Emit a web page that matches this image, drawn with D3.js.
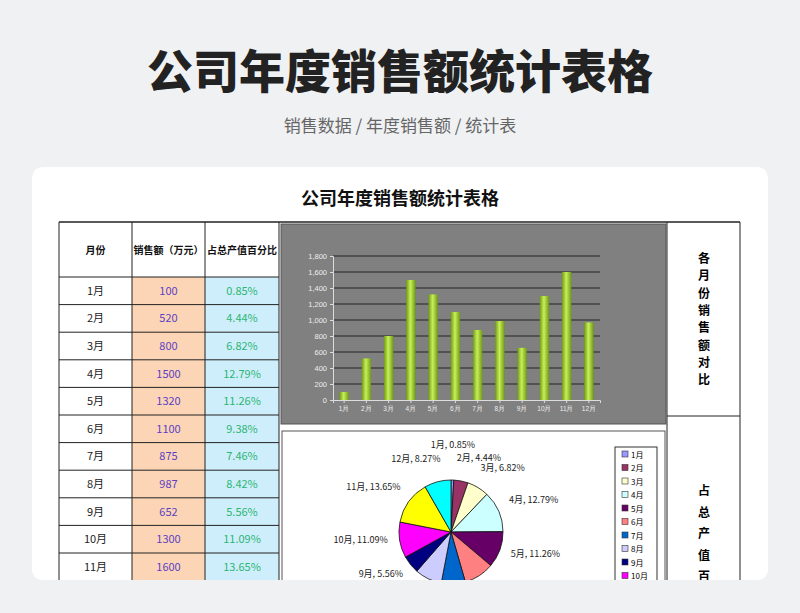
<!DOCTYPE html><html><head><meta charset="utf-8"><script src="https://cdn.jsdelivr.net/npm/d3@7"></script>
<style>body{margin:0;background:#f0f1f3;font-family:"Noto Sans CJK SC","Noto Sans",sans-serif}</style></head><body><svg id="c" width="800" height="613"></svg>
<script>
const months=["1月","2月","3月","4月","5月","6月","7月","8月","9月","10月","11月","12月"];
const sales=[100,520,800,1500,1320,1100,875,987,652,1300,1600,970];
const pcts=["0.85%","4.44%","6.82%","12.79%","11.26%","9.38%","7.46%","8.42%","5.56%","11.09%","13.65%","8.27%"];
const yTicks=[0,200,400,600,800,1000,1200,1400,1600,1800];
const pieColors=["#9999ff","#993366","#ffffcc","#ccffff","#660066","#ff8080","#0066cc","#ccccff","#000080","#ff00ff","#ffff00","#00ffff"];
const F='"Noto Sans CJK SC",sans-serif';
const svg=d3.select("#c");
svg.append("rect").attr("width",800).attr("height",613).attr("fill","#f0f1f3");
svg.append("text").attr("x",400).attr("y",88).attr("text-anchor","middle").attr("font-size",46).attr("font-weight",900).attr("fill","#222").attr("font-family",F).text("公司年度销售额统计表格");
svg.append("text").attr("x",400).attr("y",132).attr("text-anchor","middle").attr("font-size",17).attr("fill","#666").attr("font-family",F).text("销售数据 / 年度销售额 / 统计表");
const defs=svg.append("defs");
defs.append("clipPath").attr("id","cardclip").append("rect").attr("x",32).attr("y",167).attr("width",736).attr("height",413).attr("rx",10);
const g=svg.append("g").attr("clip-path","url(#cardclip)");
g.append("rect").attr("x",32).attr("y",167).attr("width",736).attr("height",430).attr("rx",10).attr("fill","#fff");
g.append("text").attr("x",400).attr("y",205).attr("text-anchor","middle").attr("font-size",18).attr("font-weight",700).attr("fill","#111").attr("font-family",F).text("公司年度销售额统计表格");
// table
const cols=[59,132,205,279,667,740], top0=222, hh=55, rh=27.6;
const hdr=["月份","销售额（万元）","占总产值百分比"];
hdr.forEach((h,i)=>g.append("text").attr("x",(cols[i]+cols[i+1])/2).attr("y",top0+hh/2+4).attr("text-anchor","middle").attr("font-size",10).attr("font-weight",700).attr("font-family",F).attr("fill","#111").text(h));
months.forEach((m,i)=>{const y=top0+hh+i*rh;
 g.append("rect").attr("x",cols[1]).attr("y",y).attr("width",cols[2]-cols[1]).attr("height",rh).attr("fill","#fbd5b5");
 g.append("rect").attr("x",cols[2]).attr("y",y).attr("width",cols[3]-cols[2]).attr("height",rh).attr("fill","#cfeefb");
 g.append("text").attr("x",(cols[0]+cols[1])/2).attr("y",y+rh/2+4).attr("text-anchor","middle").attr("font-size",11).attr("font-family",F).attr("fill","#222").text(m);
 g.append("text").attr("x",(cols[1]+cols[2])/2).attr("y",y+rh/2+4).attr("text-anchor","middle").attr("font-size",11).attr("font-family",F).attr("fill","#5b3fc4").text(sales[i]);
 g.append("text").attr("x",(cols[2]+cols[3])/2).attr("y",y+rh/2+4).attr("text-anchor","middle").attr("font-size",11).attr("font-family",F).attr("fill","#2bb673").text(pcts[i]);
 g.append("line").attr("x1",cols[0]).attr("x2",cols[3]).attr("y1",y).attr("y2",y).attr("stroke","#222");
});
g.append("line").attr("x1",cols[0]).attr("x2",cols[5]).attr("y1",top0).attr("y2",top0).attr("stroke","#222").attr("stroke-width",1.5);
cols.forEach(x=>g.append("line").attr("x1",x).attr("x2",x).attr("y1",top0).attr("y2",600).attr("stroke","#222"));
g.append("line").attr("x1",667).attr("x2",740).attr("y1",416).attr("y2",416).attr("stroke","#222");
"各月份销售额对比".split("").forEach((c,i)=>g.append("text").attr("x",704).attr("y",263+i*17.3).attr("text-anchor","middle").attr("font-size",12).attr("font-weight",700).attr("font-family",F).text(c));
"占总产值百分比".split("").forEach((c,i)=>g.append("text").attr("x",704).attr("y",495+i*21.5).attr("text-anchor","middle").attr("font-size",12).attr("font-weight",700).attr("font-family",F).text(c));
// bar chart
g.append("rect").attr("x",281).attr("y",224).attr("width",385).attr("height",200).attr("fill","#808080").attr("stroke","#555");
const x=d3.scaleBand().domain(months).range([333,600]).paddingInner(0.58).paddingOuter(0.29);
const y=d3.scaleLinear().domain([0,1800]).range([400,256]);
yTicks.forEach(t=>{if(t>0)g.append("line").attr("x1",333).attr("x2",600).attr("y1",y(t)).attr("y2",y(t)).attr("stroke","#222")});
const ya=g.append("g").attr("transform","translate(333,0)").call(d3.axisLeft(y).tickValues(yTicks).tickSize(3));
ya.selectAll("text").attr("fill","#eee").attr("font-size",7.5);ya.selectAll("line,path").attr("stroke","#ddd");
const xa=g.append("g").attr("transform","translate(0,400)").call(d3.axisBottom(x).tickSize(3));
xa.selectAll("text").attr("fill","#eee").attr("font-size",6.5);xa.selectAll("line,path").attr("stroke","#ddd");
const gr=defs.append("linearGradient").attr("id","bg");
[["0","#6f9a14"],["0.45","#c8ef5a"],["1","#6f9a14"]].forEach(s=>gr.append("stop").attr("offset",s[0]).attr("stop-color",s[1]));
g.selectAll(".bar").data(sales).enter().append("rect").attr("x",(d,i)=>x(months[i])).attr("width",x.bandwidth()).attr("y",d=>y(d)).attr("height",d=>400-y(d)).attr("fill","url(#bg)");
// pie
g.append("rect").attr("x",282).attr("y",431).attr("width",383).attr("height",170).attr("fill","#fff").attr("stroke","#555");
const cx=451,cy=532,R=52;
const pie=d3.pie().sort(null)(sales);
const arc=d3.arc().innerRadius(0).outerRadius(R);
const pg=g.append("g").attr("transform",`translate(${cx},${cy})`);
pg.selectAll("path").data(pie).enter().append("path").attr("d",arc).attr("fill",(d,i)=>pieColors[i]).attr("stroke","#111").attr("stroke-width",0.8);
const la=d3.arc().innerRadius(R+20).outerRadius(R+20);
pie.forEach((d,i)=>{const [px,py]=la.centroid(d);const mid=(d.startAngle+d.endAngle)/2;
 pg.append("text").attr("x",px).attr("y",py+(i==0?-12:0)).attr("text-anchor",i==0?"middle":(mid<Math.PI?"start":"end")).attr("dx",i==0?0:(mid<Math.PI?-8:8)).attr("font-size",9).attr("font-family",F).attr("fill","#222").text(months[i]+", "+pcts[i]);});
g.append("rect").attr("x",615).attr("y",447).attr("width",42).attr("height",160).attr("fill","#fff").attr("stroke","#333");
months.forEach((m,i)=>{const yy=456+i*13.5;
 g.append("rect").attr("x",622).attr("y",yy-5).attr("width",6).attr("height",6).attr("fill",pieColors[i]).attr("stroke","#333").attr("stroke-width",0.6);
 g.append("text").attr("x",631).attr("y",yy+1.5).attr("font-size",8).attr("font-family",F).text(m);});
</script></body></html>
